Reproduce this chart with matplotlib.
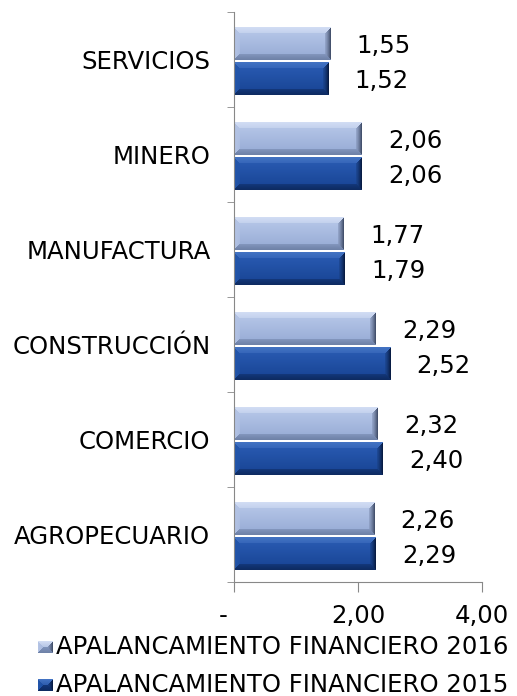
import numpy as np
import matplotlib
matplotlib.use("Agg")
from matplotlib import pyplot as plt
from matplotlib.colors import to_rgb
import matplotlib.transforms as mtransforms

# data
sectores = ["AGROPECUARIO", "COMERCIO", "CONSTRUCCIÓN", "MANUFACTURA", "MINERO", "SERVICIOS"]
apal_2016 = [2.26, 2.32, 2.29, 1.77, 2.06, 1.55]
apal_2015 = [2.29, 2.40, 2.52, 1.79, 2.06, 1.52]
serie_labels = ["APALANCAMIENTO FINANCIERO 2016", "APALANCAMIENTO FINANCIERO 2015"]
xticks = [0, 2, 4]
xtick_labels = ["-", "2,00", "4,00"]

plt.rcParams["font.family"] = "DejaVu Sans"
fs = 17.6

# bevel colours: interior top, interior bottom, top edge, bottom edge, left edge, right outer, right inner
pal_16 = ["#b9c9ea", "#95aad4", "#d1dcf3", "#6f82a8", "#b3c3e4", "#44516d", "#8c9dc2"]
pal_15 = ["#2b5db5", "#174393", "#4272c2", "#0e2b62", "#2255a9", "#081c44", "#1c4690"]


def bevel_img(w, h, pal, b=6):
    c = [np.array(to_rgb(p)) for p in pal]
    img = np.zeros((h, w, 3))
    for r in range(h):
        t = r / max(h - 1, 1)
        inner = c[0] * (1 - t) + c[1] * t
        for q in range(w):
            dt, db, dl, dr = r, h - 1 - r, q, w - 1 - q
            m = min(dt, db, dl, dr)
            if m >= b:
                img[r, q] = inner
                continue
            s = m / b
            if m == dt:
                edge = c[2]
            elif m == db:
                edge = c[3]
            elif m == dl:
                edge = c[4]
            else:
                edge = c[5] * (1 - s) + c[6] * s
            img[r, q] = edge * (1 - 0.5 * s) + inner * 0.5 * s
    return img


fig = plt.figure(figsize=(5.17, 6.96), dpi=100)
ax = fig.add_axes([0.4526, 0.1638, 0.4797, 0.819])
px_per_unit = 0.4797 * 517 / 4

h = 0.345
y = np.arange(len(sectores))


def bevel_bar(x, yc, pal):
    y0, y1 = yc - h / 2, yc + h / 2
    img = bevel_img(max(int(round(x * px_per_unit)), 2), 33, pal)
    ax.imshow(img, extent=[0, x, y0, y1], aspect="auto", origin="upper",
              interpolation="nearest", zorder=2)


for i in range(len(sectores)):
    y16 = y[i] + 0.168
    y15 = y[i] - 0.2
    bevel_bar(apal_2016[i], y16, pal_16)
    bevel_bar(apal_2015[i], y15, pal_15)
    ax.annotate(f"{apal_2016[i]:.2f}".replace(".", ","), (apal_2016[i], y16), xytext=(19, -2),
                textcoords="offset points", va="center", ha="left", fontsize=fs)
    ax.annotate(f"{apal_2015[i]:.2f}".replace(".", ","), (apal_2015[i], y15), xytext=(19, -2),
                textcoords="offset points", va="center", ha="left", fontsize=fs)

ax.set_xlim(0, 4)
ax.set_ylim(-0.5, len(sectores) - 0.5)
ax.set_xticks(xticks)
ax.set_xticklabels(xtick_labels, fontsize=fs)
ax.set_yticks(y)
ax.set_yticklabels(sectores, fontsize=fs)
ax.set_yticks(np.arange(-0.5, len(sectores)), minor=True)
ax.tick_params(axis="y", which="major", length=0, pad=17)
ax.tick_params(axis="y", which="minor", length=5, color="#888888", direction="out")
ax.tick_params(axis="x", length=7, color="#888888", pad=9)
for s in ["top", "right"]:
    ax.spines[s].set_visible(False)
for s in ["left", "bottom"]:
    ax.spines[s].set_color("#888888")
ax.set_facecolor("none")

# "-" label sits a bit left of zero
lab0 = ax.get_xticklabels()[0]
lab0.set_transform(lab0.get_transform() + mtransforms.ScaledTranslation(-8 / 72, 0, fig.dpi_scale_trans))

# legend
for k, (lbl, pal) in enumerate(zip(serie_labels, [pal_16, pal_15])):
    yy = 1 - (647 + 38 * k) / 696
    lax = fig.add_axes([38 / 517, yy - 6 / 696, 15 / 517, 12 / 696])
    lax.imshow(bevel_img(15, 12, [pal[1], pal[1], pal[2], pal[3], pal[4], pal[5], pal[6]], b=6),
               aspect="auto", interpolation="nearest")
    lax.set_axis_off()
    fig.text(56 / 517, yy, lbl, fontsize=fs, va="center", ha="left")

fig.savefig("out.png", dpi=100)
